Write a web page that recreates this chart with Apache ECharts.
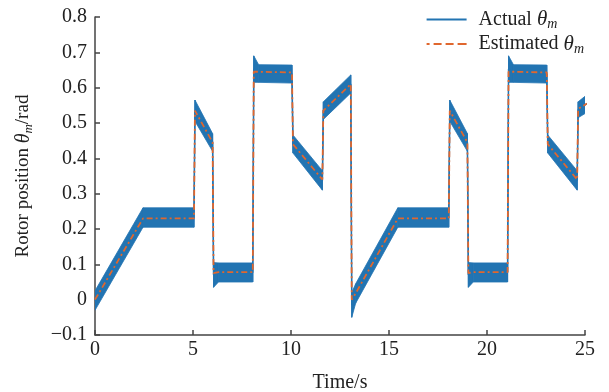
<!DOCTYPE html>
<html>
<head>
<meta charset="utf-8">
<script src="https://cdn.jsdelivr.net/npm/echarts@6/dist/echarts.min.js"></script>
<style>
html,body{margin:0;padding:0;background:#fff;}
#chart{width:609px;height:392px;}
</style>
</head>
<body>
<div id="chart"></div>
<script>
// Breakpoints of the trajectory (time in s)
const timePts   = [0, 2.45, 5.05, 5.1, 6.0, 6.05, 6.3, 8.05, 8.1, 8.35, 10.05, 10.1, 11.6, 11.65, 13.05, 13.1, 13.3, 15.45, 18.05, 18.1, 19.0, 19.05, 19.3, 21.05, 21.1, 21.35, 23.05, 23.1, 24.6, 24.65, 25.1];
// Estimated rotor position (rad)
const estimated = [0, 0.23, 0.23, 0.535, 0.445, 0.075, 0.078, 0.078, 0.645, 0.645, 0.643, 0.44, 0.34, 0.535, 0.61, 0.0, 0.018, 0.23, 0.23, 0.535, 0.445, 0.075, 0.078, 0.078, 0.645, 0.645, 0.643, 0.44, 0.34, 0.54, 0.555];
// Actual rotor position: ripple envelope (rad)
const actualHigh = [0.025, 0.26, 0.26, 0.565, 0.47, 0.105, 0.104, 0.104, 0.69, 0.665, 0.664, 0.466, 0.365, 0.56, 0.636, 0.02, 0.045, 0.26, 0.26, 0.565, 0.47, 0.105, 0.104, 0.104, 0.69, 0.665, 0.664, 0.466, 0.365, 0.56, 0.58];
const actualLow  = [-0.03, 0.205, 0.205, 0.505, 0.42, 0.035, 0.05, 0.05, 0.615, 0.615, 0.613, 0.415, 0.31, 0.51, 0.585, -0.05, -0.01, 0.205, 0.205, 0.505, 0.42, 0.035, 0.05, 0.05, 0.615, 0.615, 0.613, 0.415, 0.31, 0.515, 0.53];
const xTicks = [0, 5, 10, 15, 20, 25];
const yTicks = [-0.1, 0, 0.1, 0.2, 0.3, 0.4, 0.5, 0.6, 0.7, 0.8];

const BLUE = '#2274b2';
const ORANGE = '#e0672e';
const FONT = '"Liberation Serif", "Times New Roman", serif';

const chart = echarts.init(document.getElementById('chart'));

const bandData = timePts.map((t, i) => [t, actualLow[i], actualHigh[i]]);
const estData = timePts.map((t, i) => [t, estimated[i]]);
const actCenter = timePts.map((t, i) => [t, (actualLow[i] + actualHigh[i]) / 2]);

function makeRich(size) {
  return {
    n: {fontFamily: FONT, fontSize: size, color: '#222'},
    t: {fontFamily: FONT, fontSize: size + 1, fontStyle: 'italic', color: '#222'},
    s: {fontFamily: FONT, fontSize: Math.round(size * 0.7), fontStyle: 'italic', color: '#222', padding: [Math.round(size * 0.5), 0, 0, 0]}
  };
}

chart.setOption({
  animation: false,
  backgroundColor: '#fff',
  grid: {left: 95, right: 24, top: 17, bottom: 57, containLabel: false, outerBoundsMode: 'none'},
  legend: {
    right: 20, top: 4, orient: 'vertical', itemGap: 2,
    itemWidth: 40, itemHeight: 14,
    data: [
      {name: 'Actual', icon: 'path://M0,5 L40,5 L40,7 L0,7 Z', itemStyle: {color: BLUE}},
      {name: 'Estimated', icon: 'path://M0,5h3v2h-3z M7,5h8v2h-8z M19,5h8v2h-8z M31,5h9v2h-9z', itemStyle: {color: ORANGE}}
    ],
    formatter: function (name) { return '{n|' + name + ' }{t|θ}{s|m}'; },
    textStyle: {rich: makeRich(20), fontFamily: FONT, fontSize: 20, padding: [0, 0, 0, 7]}
  },
  xAxis: {
    type: 'value', min: 0, max: 25, interval: 5,
    name: 'Time/s', nameLocation: 'middle', nameGap: 38,
    nameTextStyle: {fontFamily: FONT, fontSize: 20, color: '#222'},
    axisLine: {show: true, onZero: false, lineStyle: {color: '#444', width: 1.5}},
    axisTick: {show: true, inside: true, length: 5, lineStyle: {color: '#444', width: 1.5}},
    axisLabel: {fontFamily: FONT, fontSize: 20, color: '#222', margin: 5},
    splitLine: {show: false}
  },
  yAxis: {
    type: 'value', min: -0.1, max: 0.8, interval: 0.1,
    name: '{n|Rotor position }{t|θ}{s|m}{n|/rad}', nameLocation: 'middle', nameGap: 60,
    nameTextStyle: {rich: makeRich(19), fontFamily: FONT, fontSize: 19},
    axisLine: {show: true, onZero: false, lineStyle: {color: '#444', width: 1.5}},
    axisTick: {show: true, inside: true, length: 5, lineStyle: {color: '#444', width: 1.5}},
    axisLabel: {fontFamily: FONT, fontSize: 20, color: '#222', margin: 8,
      formatter: function (v) { const r = Math.round(v * 10) / 10; return r < 0 ? '\u2212' + Math.abs(r) : String(r); }},
    splitLine: {show: false}
  },
  series: [
    {
      name: 'band', type: 'custom', clip: true, z: 1, silent: true,
      data: bandData,
      encode: {x: 0, y: [1, 2]},
      renderItem: function (params, api) {
        const i = params.dataIndex;
        if (i >= bandData.length - 1) return null;
        const a = bandData[i], b = bandData[i + 1];
        const pts = [api.coord([a[0], a[2]]), api.coord([b[0], b[2]]), api.coord([b[0], b[1]]), api.coord([a[0], a[1]])];
        return {type: 'polygon', shape: {points: pts}, style: {fill: BLUE, stroke: BLUE, lineWidth: 0.8}};
      }
    },
    {
      name: 'Actual', type: 'line', data: actCenter, showSymbol: false, symbol: 'none',
      lineStyle: {color: BLUE, width: 1.5}, itemStyle: {color: BLUE}, z: 2, clip: true
    },
    {
      name: 'Estimated', type: 'line', data: estData, showSymbol: false, symbol: 'none',
      lineStyle: {color: ORANGE, width: 1.8, type: [6, 3, 2, 3]}, itemStyle: {color: ORANGE}, z: 3, clip: true
    }
  ]
});
</script>
</body>
</html>
